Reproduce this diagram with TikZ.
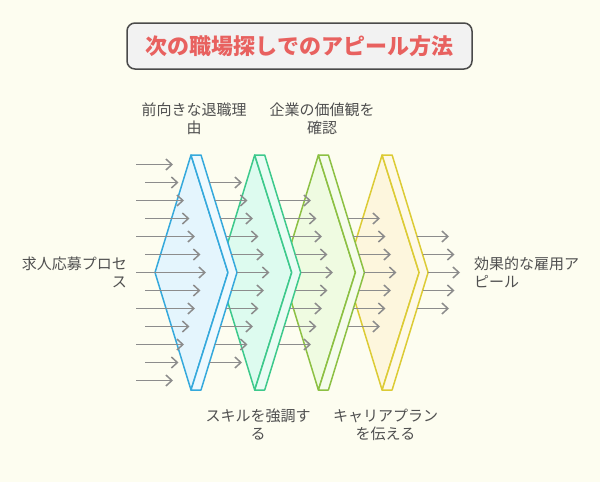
\documentclass[tikz,border=0pt]{standalone}
\usepackage{fontspec}
\setmainfont{Noto Sans CJK JP}
\usetikzlibrary{arrows.meta}
\definecolor{bg}{HTML}{FDFDF0}
\definecolor{blueD}{HTML}{35A9DC}
\definecolor{blueF}{HTML}{E4F5FD}
\definecolor{blueS}{HTML}{EEF9FE}
\definecolor{greenD}{HTML}{3DC98C}
\definecolor{greenF}{HTML}{DDFBEF}
\definecolor{greenS}{HTML}{E9FCF4}
\definecolor{oliveD}{HTML}{8CC043}
\definecolor{oliveF}{HTML}{EFFBE1}
\definecolor{oliveS}{HTML}{F5FCEC}
\definecolor{yelD}{HTML}{DCCB35}
\definecolor{yelF}{HTML}{FDF6DD}
\definecolor{yelS}{HTML}{FEF9E8}
\definecolor{arrgray}{HTML}{8C8C8C}
\definecolor{txt}{HTML}{505050}
\definecolor{ttl}{HTML}{E8615F}
\definecolor{ttlbox}{HTML}{F2F2F2}
\definecolor{ttlline}{HTML}{4A4A4A}
\begin{document}
\begin{tikzpicture}[x=1pt,y=-1pt,
  arr/.style={draw=arrgray,line width=1.5pt,-{Straight Barb[length=6pt,width=11pt]}},
  lbl/.style={text=txt,font=\fontsize{15}{18}\selectfont,inner sep=0pt},
  titlebox/.style={draw=ttlline,line width=1.5pt,fill=ttlbox,rounded corners=8pt,
    minimum width=345pt,minimum height=46pt,text=ttl,font=\fontsize{22}{26}\selectfont\bfseries},
  platefront/.style={line width=1.5pt,line join=round},
]
\fill[bg] (0,0) rectangle (600,482);
\useasboundingbox (0,0) rectangle (600,482);

\node[titlebox] (title) at (299.5,46) {次の職場探しでのアピール方法};

% plates, right to left so the left ones lie on top
\foreach \T/\D/\F/\S in {382.1/yelD/yelF/yelS, 318.4/oliveD/oliveF/oliveS, 254.7/greenD/greenF/greenS, 191/blueD/blueF/blueS} {
  \filldraw[platefront,draw=\D,fill=\F] (\T,155) -- ({\T+37},272.5) -- (\T,390) -- ({\T-36},272.5) -- cycle;
  \filldraw[platefront,draw=\D,fill=\S] (\T,155) -- ({\T+10},155) -- ({\T+46},272.5) -- ({\T+10},390) -- (\T,390) -- ({\T+37},272.5) -- cycle;
}

% first group of arrows
\foreach \i in {-6,...,6} {
  \pgfmathsetmacro\xs{mod(abs(\i),2)==1 ? 145 : 136}
  \pgfmathsetmacro\xe{206-5.5*abs(\i)}
  \pgfmathsetmacro\yy{272.5+18*\i}
  \coordinate (a0s\i) at (\xs,\yy);
  \coordinate (a0e\i) at (\xe,\yy);
  \draw[arr] (a0s\i) -- (a0e\i);
}
% following groups
\foreach \k in {1,...,4} {
  \pgfmathtruncatemacro\n{6-\k}
  \foreach \i in {-\n,...,\n} {
    \pgfmathsetmacro\yy{272.5+18*\i}
    \pgfmathsetmacro\xs{191+63.7*(\k-1)+10+36*(1-abs(18*\i)/117.5)}
    \pgfmathsetmacro\xe{206+63.5*\k-5.5*abs(\i)}
    \coordinate (a\k s\i) at (\xs,\yy);
    \coordinate (a\k e\i) at (\xe,\yy);
    \draw[arr] (a\k s\i) -- (a\k e\i);
  }
}

\node[lbl,align=center] (l1) at (194,118.5) {前向きな退職理\\由};
\node[lbl,align=center] (l2) at (322,118.5) {企業の価値観を\\確認};
\node[lbl,align=center] (l3) at (258,424.5) {スキルを強調す\\る};
\node[lbl,align=center] (l4) at (385.5,424.5) {キャリアプラン\\を伝える};
\node[lbl,align=right,anchor=east] (lin) at (127,272.5) {求人応募プロセ\\ス};
\node[lbl,align=left,anchor=west] (lout) at (474,272.5) {効果的な雇用ア\\ピール};
\end{tikzpicture}
\end{document}
